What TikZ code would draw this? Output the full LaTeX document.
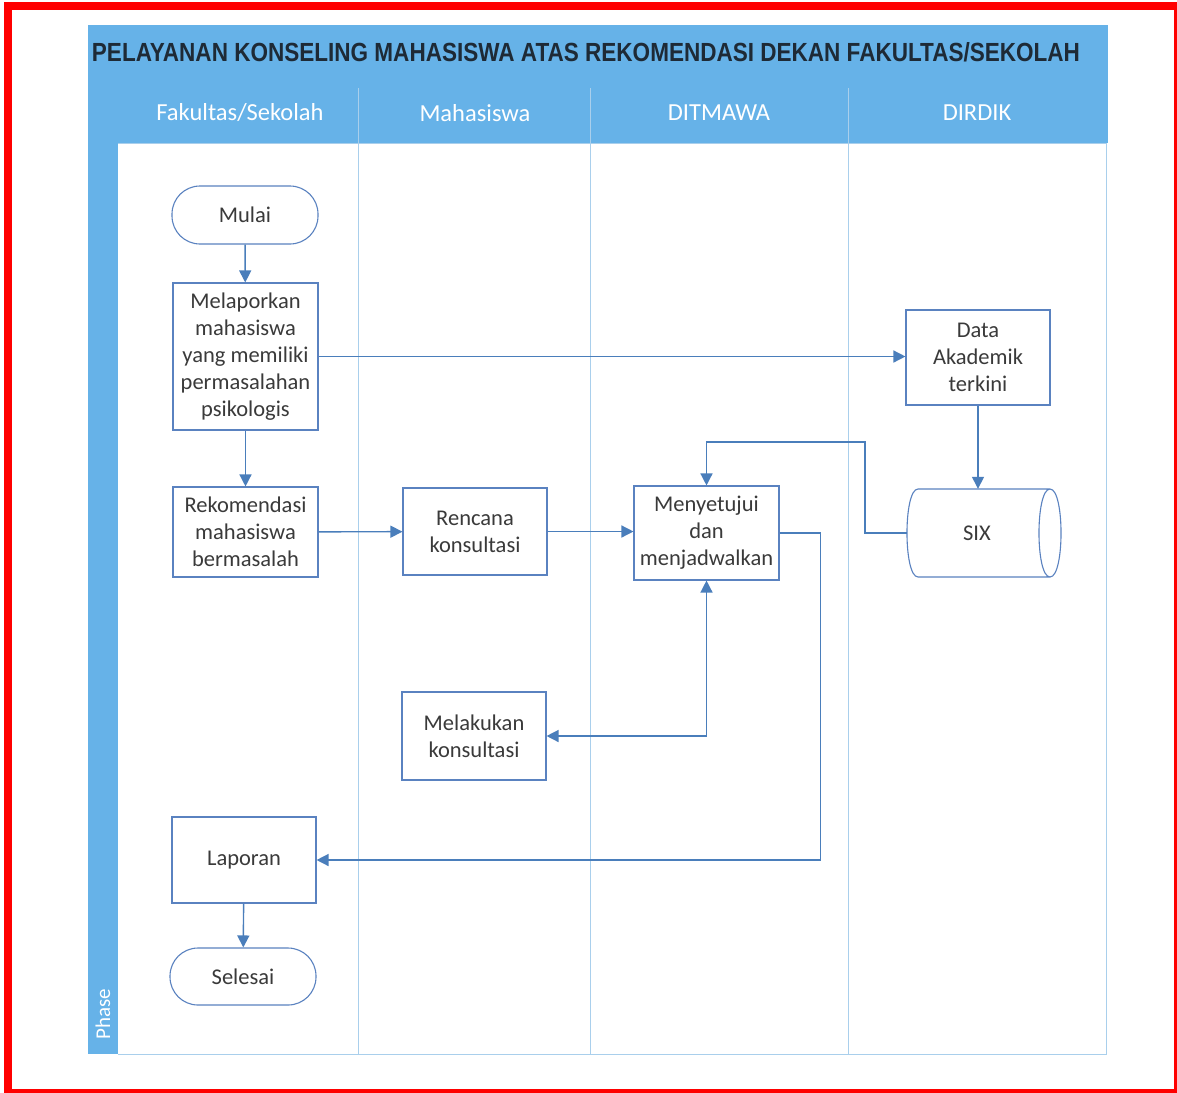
\documentclass[tikz,border=0pt]{standalone}
\usepackage{fontspec}
\setmainfont{Carlito}
\newfontfamily\titlefont{Liberation Sans}
\usetikzlibrary{arrows.meta}
\definecolor{pool}{HTML}{66B2E8}
\definecolor{lanel}{HTML}{A9CFEC}
\definecolor{edgec}{HTML}{4A7EBB}
\definecolor{bord}{HTML}{5A82C0}
\definecolor{txt}{HTML}{3A3A3A}
\definecolor{ttl}{HTML}{1E2A36}
\begin{document}
\begin{tikzpicture}[x=1pt,y=-1pt,
 proc/.style={draw=bord, line width=1.1pt, fill=white, text=txt, align=center,
   font=\fontsize{22.5}{27}\selectfont, inner sep=0pt},
 term/.style={proc, rounded corners=28pt},
 lanehead/.style={text=white, font=\fontsize{24.5}{28}\selectfont},
 flow/.style={draw=edgec, line width=1.4pt, -{Triangle[length=12pt,width=12pt]}},
 biflow/.style={draw=edgec, line width=1.4pt, {Triangle[length=12pt,width=12pt]}-{Triangle[length=12pt,width=12pt]}},
]
\useasboundingbox (0,0) rectangle (1177,1092);
\fill[white] (0,0) rectangle (1177,1092);
% pool
\fill[pool] (88,25) rectangle (1108,143);
\fill[pool] (88,143) rectangle (118,1054);
\draw[lanel, line width=1pt] (118,143) -- (1106,143) -- (1106,1054) -- (118,1054);
\foreach \x in {358,590,848} \draw[lanel, line width=1pt] (\x,88) -- (\x,1054);
% title and headers
\node[text=ttl] (title) at (586,52.5) {\resizebox{988pt}{19pt}{\titlefont\bfseries PELAYANAN KONSELING MAHASISWA ATAS REKOMENDASI DEKAN FAKULTAS/SEKOLAH}};
\node[lanehead] (h1) at (240,113) {Fakultas/Sekolah};
\node[lanehead] (h2) at (475,113) {Mahasiswa};
\node[lanehead] (h3) at (719,113) {DITMAWA};
\node[lanehead] (h4) at (977,113) {DIRDIK};
\node[text=white, rotate=90, font=\fontsize{21}{25}\selectfont] (phase) at (103,1014) {Phase};
% nodes
\node[term, minimum width=146pt, minimum height=58pt] (mulai) at (245,215) {Mulai};
\node[proc, minimum width=145pt, minimum height=147pt] (melap) at (245.5,356.5) {Melaporkan\\mahasiswa\\yang memiliki\\permasalahan\\psikologis};
\node[proc, minimum width=145pt, minimum height=90pt] (rekom) at (245.5,532) {Rekomendasi\\mahasiswa\\bermasalah};
\node[proc, minimum width=144pt, minimum height=87pt] (rencana) at (475,531.5) {Rencana\\konsultasi};
\node[proc, minimum width=145pt, minimum height=94pt] (menyet) at (706.5,533) {Menyetujui\\dan\\menjadwalkan};
\node[proc, minimum width=144pt, minimum height=95pt] (data) at (978,357.5) {Data\\Akademik\\terkini};
\node[text=txt, font=\fontsize{22.5}{27}\selectfont, minimum width=140pt, minimum height=88pt, inner sep=0pt] (six) at (977,533) {SIX};
\draw[bord, line width=1.1pt]
  (918,489) -- (1050,489)
  .. controls (1064.7,489) and (1064.7,577) .. (1050,577)
  .. controls (1035.3,577) and (1035.3,489) .. (1050,489)
  (918,489) .. controls (903.3,489) and (903.3,577) .. (918,577) -- (1050,577);
\node[proc, minimum width=144pt, minimum height=88pt] (melak) at (474,736) {Melakukan\\konsultasi};
\node[proc, minimum width=144pt, minimum height=86pt] (lapor) at (244,860) {Laporan};
\node[term, minimum width=146pt, minimum height=57pt] (selesai) at (243,976.5) {Selesai};
% connectors
\draw[flow] (mulai) -- (melap);
\draw[flow] (melap) -- (rekom);
\draw[flow] (melap.east) -- (melap.east -| data.west);
\draw[flow] (data.south) -- (data.south |- six.north);
\draw[flow] (rekom) -- (rencana);
\draw[flow] (rencana.east) -- (rencana.east -| menyet.west);
\draw[flow] (six.west) -| (865,442) -| (menyet.north);
\draw[biflow] (menyet.south) |- (melak.east);
\draw[flow] (menyet.east) -- ++(41,0) |- (lapor.east);
\draw[flow] (lapor) -- (selesai);
% red frame
\draw[red, line width=8pt] (8,6) rectangle (1178,1093);
\end{tikzpicture}
\end{document}
